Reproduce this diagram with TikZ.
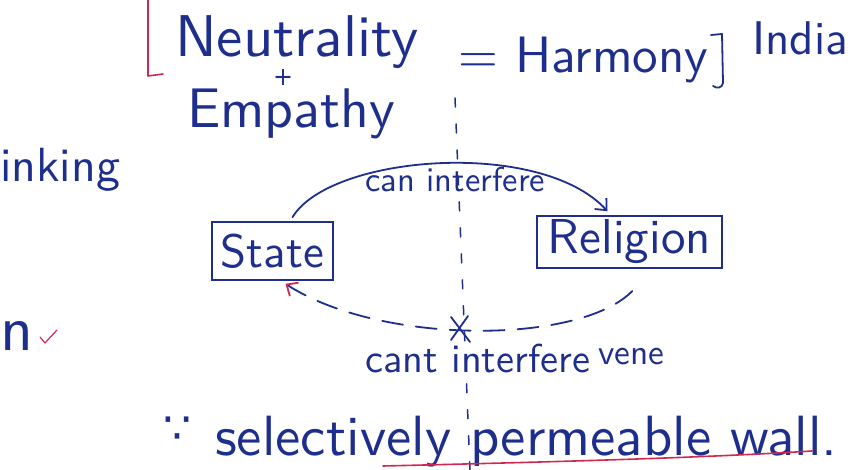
\documentclass[tikz,border=0pt]{standalone}
\usepackage{fontspec}
\usepackage{graphicx}
\newfontfamily\symfont{DejaVu Sans}
\usetikzlibrary{arrows.meta}
\definecolor{ink}{HTML}{1E2E8C}
\definecolor{redink}{HTML}{D02850}
\newcommand{\hw}[2]{\resizebox{#1pt}{!}{\sffamily #2}}
\begin{document}
\begin{tikzpicture}[x=1pt,y=-1pt,
  txt/.style={inner sep=0pt, anchor=base west, text=ink},
  boxnode/.style={draw=ink, line width=1.6pt, inner sep=0pt, text=ink},
  inkline/.style={draw=ink, line width=1.8pt, line cap=round, line join=round},
  redline/.style={draw=redink, line width=1.6pt, line cap=round, line join=round},
  wall/.style={draw=ink, line width=1.5pt, dash pattern=on 9pt off 17pt, line cap=round},
  barb/.style={-{Straight Barb[length=9pt,width=16pt]}}]
\useasboundingbox (0,0) rectangle (851,470);

% top formula
\node[txt] (neu) at (175,57) {\hw{243}{Neutrality}};
\node[txt, anchor=center] (plus) at (283,78) {\resizebox{20pt}{16pt}{\symfont +}};
\node[txt] (emp) at (187,128) {\hw{208}{Empathy}};
\node[txt] (harm) at (458,73) {\hw{250}{= Harmony}};
\node[txt] (ind) at (752,55) {\hw{96}{India}};
\draw[redline] (148,0) -- (148,76) -- (163,74);
\draw[inkline] (711,35) -- (722,34) -- (723,83) .. controls (722,88) and (717,89) .. (713,86);

% left margin fragments
\node[txt] (ink) at (0,182) {\hw{120}{inking}};
\node[txt] (nn) at (0,350) {\hw{33}{n}};
\draw[redline, line width=1.2pt] (40,337) -- (45,343) -- (57,330);

% boxes
\node[boxnode, minimum width=121pt, minimum height=58pt] (state) at (272.5,251) {\hw{103}{State}};
\node[boxnode, minimum width=185pt, minimum height=52pt] (rel) at (629.5,242) {\hw{163}{Religion}};

% wall
\coordinate (wtop) at (455,98);
\coordinate (wbot) at (470,470);
\draw[wall] (wtop) -- (wbot);

% can interfere arc
\coordinate (sa) at ([xshift=20pt,yshift=4pt]state.north);
\coordinate (ra) at ([xshift=-22pt,yshift=4pt]rel.north);
\draw[inkline, barb] (sa) .. controls (330,155) and (540,138) .. (ra);
\node[txt] (can) at (365,192) {\hw{180}{can interfere}};

% cant interfere arc
\coordinate (sb) at ([xshift=13pt,yshift=-3pt]state.south);
\coordinate (rb) at ([xshift=3pt,yshift=-22pt]rel.south);
\draw[inkline, dash pattern=on 21pt off 13pt, {Straight Barb[length=9pt,width=16pt,color=redink]}-] (sb) .. controls (380,345) and (580,345) .. (rb);
\draw[inkline] (451,317) -- (470,342);
\draw[inkline] (468,316) -- (451,340);
\node[txt] (cant) at (365,372) {\hw{225}{cant interfere}};
\node[txt] (vene) at (598,364) {\hw{66}{vene}};

% bottom line
\node[txt, anchor=center] (because) at (178,430) {\resizebox{28pt}{!}{\symfont ∵}};
\node[txt] (sel) at (215,455) {\hw{622}{selectively permeable wall.}};
\draw[redline] (383,466) .. controls (550,462) and (700,458) .. (812,451);
\end{tikzpicture}
\end{document}
